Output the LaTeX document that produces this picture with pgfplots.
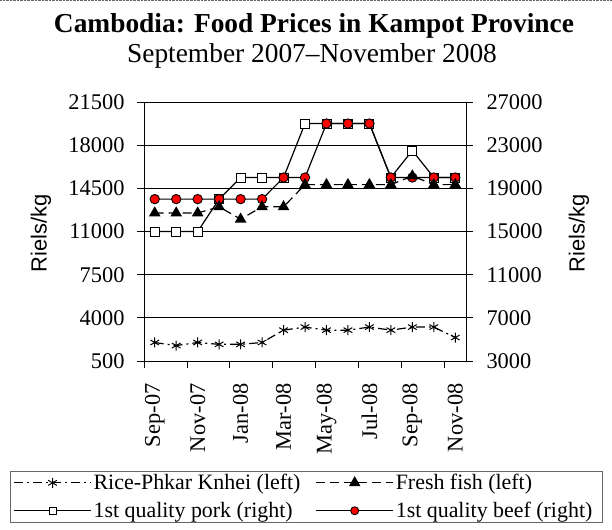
\documentclass[border=0pt]{standalone}
\usepackage{pgfplots}
\pgfplotsset{compat=1.18}
\usepackage{fontspec}
\setmainfont{Liberation Serif}
\newfontfamily\arialfont{Liberation Sans}
\begin{document}
\begin{tikzpicture}[x=1bp,y=1bp]
\useasboundingbox (0,0) rectangle (612,530);
\draw[densely dotted, black!60] (0,529.4) -- (612,529.4);
\node[font=\fontsize{27.5}{32}\selectfont\bfseries, anchor=base] at (314,497) {Cambodia: Food Prices in Kampot Province};
\node[font=\fontsize{27.5}{32}\selectfont, anchor=base] at (312,467) {September 2007--November 2008};

% right axis (pork, beef)
\begin{axis}[
  at={(144bp,169bp)}, anchor=south west, scale only axis,
  width=322bp, height=259bp,
  xmin=-0.5, xmax=14.5, ymin=3000, ymax=27000,
  scaled ticks=false,
  ytick={3000,7000,11000,15000,19000,23000,27000},
  yticklabels={3000,7000,11000,15000,19000,23000,27000},
  xtick={-0.5,1.5,3.5,5.5,7.5,9.5,11.5,13.5},
  xticklabels={},
  ytick pos=right, yticklabel pos=right, xtick pos=lower,
  tick align=outside, major tick length=7bp,
  tick style={black, line width=0.8bp},
  ymajorgrids, grid style={black, line width=0.8bp},
  axis line style={black, line width=0.9bp},
  ticklabel style={font=\fontsize{22.5}{26}\selectfont},
  yticklabel style={xshift=10bp},
  ylabel={\arialfont Riels/kg},
  ylabel style={at={(axis description cs:1.351,0.494)}, anchor=center, font=\fontsize{22}{26}\selectfont},
  clip=false,
]
\addplot[black, line width=1.2bp, mark=square*, mark size=4.5bp, mark options={solid, fill=white, line width=0.9bp}]
 coordinates {(0,15000)(1,15000)(2,15000)(3,18000)(4,20000)(5,20000)(6,20000)(7,25000)(8,25000)(9,25000)(10,25000)(11,20000)(12,22500)(13,20000)(14,20000)};
\addplot[black, line width=1.2bp, mark=*, mark size=4.7bp, mark options={solid, fill=red, line width=0.9bp}]
 coordinates {(0,18000)(1,18000)(2,18000)(3,18000)(4,18000)(5,18000)(6,20000)(7,20000)(8,25000)(9,25000)(10,25000)(11,20000)(12,20000)(13,20000)(14,20000)};
\end{axis}

% left axis (rice, fish)
\begin{axis}[
  at={(144bp,169bp)}, anchor=south west, scale only axis,
  width=322bp, height=259bp,
  xmin=-0.5, xmax=14.5, ymin=500, ymax=21500,
  scaled ticks=false,
  ytick={500,4000,7500,11000,14500,18000,21500},
  yticklabels={500,4000,7500,11000,14500,18000,21500},
  xtick={0,2,4,6,8,10,12,14},
  xticklabels={Sep-07,Nov-07,Jan-08,Mar-08,May-08,Jul-08,Sep-08,Nov-08},
  ytick pos=left, xtick pos=lower,
  tick align=outside, major tick length=7bp,
  ytick style={black, line width=0.8bp},
  xtick style={draw=none},
  axis line style={black, line width=0.9bp},
  ticklabel style={font=\fontsize{22.5}{26}\selectfont},
  yticklabel style={xshift=-9bp},
  xticklabel style={rotate=90, anchor=east},
  xticklabel shift=12bp,
  ylabel={\arialfont Riels/kg},
  ylabel style={at={(axis description cs:-0.32,0.494)}, anchor=center, font=\fontsize{22}{26}\selectfont},
  clip=false,
  legend columns=2,
  legend cell align=left,
  legend image code/.code={\draw[mark repeat=2,mark phase=2,#1] plot coordinates {(0bp,0bp) (38.5bp,0bp) (77bp,0bp)};},
  legend style={at={(axis description cs:-0.4161,-0.4247)}, anchor=north west,
    draw=black!60, line width=0.8bp, font=\fontsize{22}{25}\selectfont,
    inner xsep=3bp, inner ysep=1bp, row sep=7bp,
    /tikz/every even column/.append style={column sep=6bp}},
]
\addplot[black, line width=1.2bp, dash pattern=on 9bp off 4bp on 2bp off 4bp, mark=asterisk, mark size=5bp, mark options={solid, line width=1bp}]
 coordinates {(0,2000)(1,1750)(2,2000)(3,1850)(4,1850)(5,2000)(6,3000)(7,3250)(8,3000)(9,3000)(10,3250)(11,3000)(12,3250)(13,3250)(14,2400)};
\addplot[black, line width=1.2bp, dash pattern=on 9bp off 5bp, mark=triangle*, mark size=5.5bp, mark options={solid, fill=black}]
 coordinates {(0,12500)(1,12500)(2,12500)(3,13000)(4,12000)(5,13000)(6,13000)(7,14800)(8,14800)(9,14800)(10,14800)(11,14800)(12,15500)(13,14800)(14,14800)};
\addlegendimage{black, line width=1.2bp, mark=square*, mark size=3.5bp, mark options={solid, fill=white, line width=0.9bp}}
\addlegendimage{black, line width=1.2bp, mark=*, mark size=4bp, mark options={solid, fill=red, line width=0.9bp}}
\legend{\makebox[214bp][l]{Rice-Phkar Knhei (left)}, \makebox[202bp][l]{Fresh fish (left)}, \makebox[214bp][l]{1st quality pork (right)}, \makebox[202bp][l]{1st quality beef (right)}}
\end{axis}
\end{tikzpicture}
\end{document}
